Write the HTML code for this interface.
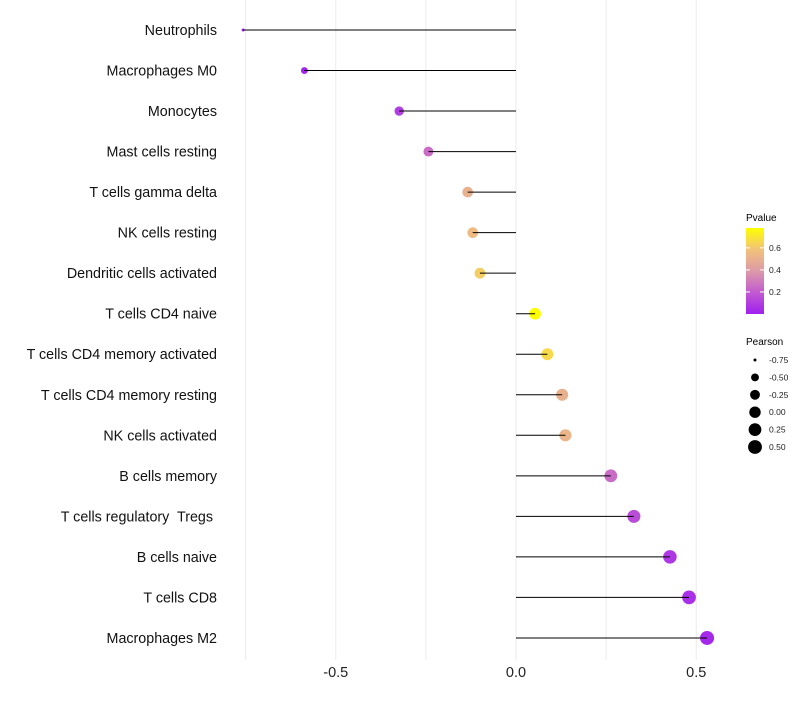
<!DOCTYPE html>
<html><head><meta charset="utf-8"><style>
body{margin:0;background:#fff}
svg text{font-family:"Liberation Sans",sans-serif;white-space:pre}
</style></head><body>
<svg id="c" width="800" height="700">
<defs><linearGradient id="pg" x1="0" y1="1" x2="0" y2="0">
<stop offset="0" stop-color="#a020f0"/><stop offset="0.25" stop-color="#c25ad0"/>
<stop offset="0.5" stop-color="#dc9aa8"/><stop offset="0.75" stop-color="#f2c27a"/>
<stop offset="1" stop-color="#ffff00"/></linearGradient></defs>
<g id="grid"></g><g id="marks"></g><g id="labels"></g>
<g>
<text x="746" y="221" font-size="10">Pvalue</text>
<rect x="746" y="228" width="18" height="86" fill="url(#pg)"/>
<g id="cbt"></g>
</g>
<g id="sl">
<text x="746" y="345" font-size="10">Pearson</text>
</g>
</svg>
<script>
const categories=["Neutrophils","Macrophages M0","Monocytes","Mast cells resting","T cells gamma delta","NK cells resting","Dendritic cells activated","T cells CD4 naive","T cells CD4 memory activated","T cells CD4 memory resting","NK cells activated","B cells memory","T cells regulatory  Tregs ","B cells naive","T cells CD8","Macrophages M2"];
const pearson=[-0.757,-0.587,-0.324,-0.243,-0.134,-0.12,-0.10,0.053,0.087,0.128,0.137,0.263,0.327,0.427,0.48,0.53];
const pvalue=[0.01,0.02,0.1,0.25,0.5,0.55,0.62,0.78,0.66,0.5,0.52,0.25,0.15,0.08,0.05,0.03];
const xTicks=[-0.5,0,0.5];
const xTickLabels=["-0.5","0.0","0.5"];
const cbTicks=[0.2,0.4,0.6];
const sizeBreaks=[-0.75,-0.5,-0.25,0,0.25,0.5];
const sizeLabels=["-0.75","-0.50","-0.25","0.00","0.25","0.50"];
const NS="http://www.w3.org/2000/svg";
const x=v=>516+v*360.5;
const y=i=>30+i*40.53;
const r=p=>1.5+5.5*Math.sqrt(Math.max(p+0.75,0)/1.28);
const stops=[[0,[160,32,240]],[0.25,[194,90,208]],[0.5,[220,154,168]],[0.75,[242,194,122]],[1,[255,255,0]]];
function col(p){let t=Math.min(Math.max(p/0.78,0),1);for(let k=1;k<stops.length;k++){if(t<=stops[k][0]){const a=stops[k-1],b=stops[k],f=(t-a[0])/(b[0]-a[0]);return "rgb("+a[1].map((c,j)=>Math.round(c+(b[1][j]-c)*f)).join(",")+")";}}return "rgb(255,255,0)";}
function mk(t,at,par){const e=document.createElementNS(NS,t);for(const k in at)e.setAttribute(k,at[k]);document.getElementById(par).appendChild(e);return e;}
[-0.75,-0.5,-0.25,0,0.25,0.5].forEach(v=>{const l=mk("line",{x1:x(v),x2:x(v),y1:0,y2:660,stroke:"#ebebeb","stroke-width":1},"grid");

});
xTicks.forEach((v,i)=>{const t=mk("text",{x:x(v),y:677,"font-size":14.5,"text-anchor":"middle",fill:"#222"},"labels");t.textContent=xTickLabels[i];

});
categories.forEach((c,i)=>{
const t=mk("text",{x:217,y:y(i)+5,"font-size":14.3,"text-anchor":"end",fill:"#111"},"labels");t.textContent=c;


const d=mk("circle",{cx:x(pearson[i]),cy:y(i),r:r(pearson[i]),fill:col(pvalue[i])},"marks");


const s=mk("line",{x1:x(0),x2:x(pearson[i]),y1:y(i),y2:y(i),stroke:"#000","stroke-width":1},"marks");


});
cbTicks.forEach(v=>{const yy=314-v/0.78*86;
mk("line",{x1:746,x2:750,y1:yy,y2:yy,stroke:"#fff"},"cbt");mk("line",{x1:760,x2:764,y1:yy,y2:yy,stroke:"#fff"},"cbt");
const t=mk("text",{x:769,y:yy+3,"font-size":8.5,fill:"#222"},"cbt");t.textContent=v.toFixed(1);

});
sizeBreaks.forEach((v,i)=>{const yy=360+i*17.4;
const c=mk("circle",{cx:755,cy:yy,r:r(v),fill:"#000"},"sl");


const t=mk("text",{x:769,y:yy+3,"font-size":8.5,fill:"#222"},"sl");t.textContent=sizeLabels[i];

});
</script>
</body></html>
